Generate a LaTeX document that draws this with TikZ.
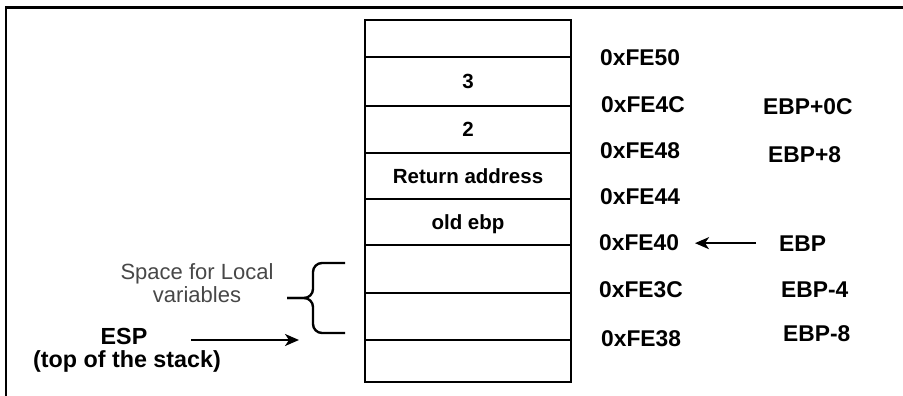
\documentclass[tikz,border=0pt]{standalone}
\usepackage{fontspec}
\setmainfont{Liberation Sans}
\usetikzlibrary{arrows.meta}
\begin{document}
\begin{tikzpicture}[x=1pt,y=-1pt,
  cell/.style={draw, line width=2.4pt, minimum width=206pt, inner sep=0pt,
    font=\fontsize{20.5}{24}\selectfont\bfseries, text height=14.7pt, text depth=0pt},
  lbl/.style={anchor=base west, inner sep=0pt, font=\fontsize{22.8}{26}\selectfont\bfseries},
  ctr/.style={anchor=base, inner sep=0pt, font=\fontsize{23.3}{26}\selectfont\bfseries},
  note/.style={anchor=base, inner sep=0pt, font=\fontsize{22}{26}\selectfont, text=black!72},
  ptr/.style={-{Stealth[length=14pt,width=12pt,inset=4pt]}, line width=2.2pt},
  brace/.style={line width=2.4pt, rounded corners=9pt}]
\useasboundingbox (0,0) rectangle (903,396);
% outer frame
\draw[line width=2.6pt] (6,396) -- (6,7.5) -- (903,7.5);
% stack cells
\node[cell, minimum height=37pt] (r0) at (468,38.5) {};
\node[cell, minimum height=49pt] (r1) at (468,81.5) {3};
\node[cell, minimum height=47pt] (r2) at (468,129.5) {2};
\node[cell, minimum height=46pt] (r3) at (468,176) {Return address};
\node[cell, minimum height=46pt] (r4) at (468,222) {old ebp};
\node[cell, minimum height=48pt] (r5) at (468,269) {};
\node[cell, minimum height=47pt] (r6) at (468,316.5) {};
\node[cell, minimum height=42pt] (r7) at (468,361) {};
% addresses
\node[lbl] (a50) at (600,65.5) {0xFE50};
\node[lbl] (a4c) at (601,112.5) {0xFE4C};
\node[lbl] (a48) at (600,158.5) {0xFE48};
\node[lbl] (a44) at (600,204) {0xFE44};
\node[lbl] (a40) at (599,250) {0xFE40};
\node[lbl] (a3c) at (599,297) {0xFE3C};
\node[lbl] (a38) at (601,346) {0xFE38};
% EBP offsets
\node[lbl] (e0c) at (763,114) {EBP+0C};
\node[lbl] (e8) at (768,162) {EBP+8};
\node[lbl] (ebp) at (779,251) {EBP};
\node[lbl] (em4) at (781,297) {EBP-4};
\node[lbl] (em8) at (783,341) {EBP-8};
\draw[ptr] ([xshift=-23pt]ebp.west) -- ([xshift=-84pt]ebp.west);
% local variables brace
\node[note] (sp1) at (197,279) {Space for Local};
\node[note] (sp2) at (197,302) {variables};
\draw[brace] (345,263) -- (313,263) -- (313,298) -- (287,298);
\draw[brace] (287,298) -- (313,298) -- (313,333) -- (345,333);
% ESP
\node[ctr] (esp) at (124,344) {ESP};
\node[ctr] (tos) at (127,367) {(top of the stack)};
\coordinate (espfrom) at (191,340);
\coordinate (esptip) at (299,340);
\draw[ptr] (espfrom) -- (esptip);
\end{tikzpicture}
\end{document}
